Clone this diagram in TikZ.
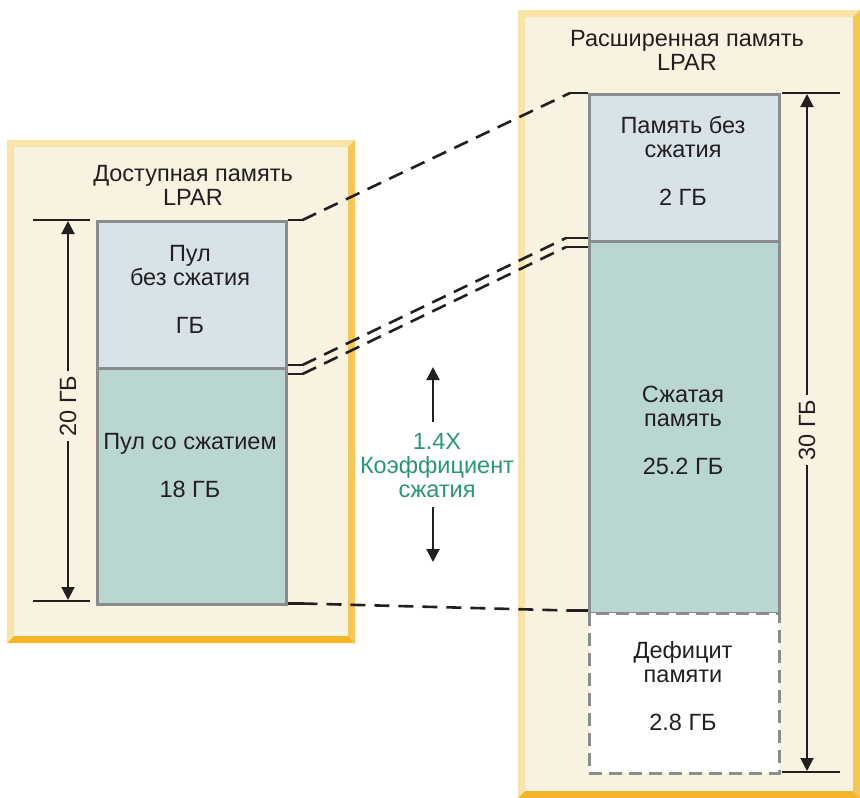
\documentclass[tikz,border=0pt]{standalone}
\usepackage{fontspec}
\setmainfont{Liberation Sans}
\usetikzlibrary{arrows.meta}
\definecolor{panelfill}{HTML}{F8F2E1}
\definecolor{bevlight}{HTML}{F9E3A8}
\definecolor{bevdark}{HTML}{F3C655}
\definecolor{bevbottom}{HTML}{F2B52B}
\definecolor{plainpool}{HTML}{D7E2E9}
\definecolor{zippool}{HTML}{BAD6D1}
\definecolor{edgegray}{HTML}{8A8C8E}
\definecolor{ratio}{HTML}{2A9676}
\definecolor{ink}{HTML}{231F20}

% beveled panel: #1,#2 top-left corner, #3,#4 bottom-right corner
\newcommand\bevelpanel[4]{%
  \fill[panelfill] (#1,#2) rectangle (#3,#4);
  \fill[bevlight] (#1,#2) -- (#3,#2) -- (#3-7,#2+7) -- (#1+7,#2+7) -- cycle;
  \fill[bevlight] (#1,#2) -- (#1+7,#2+7) -- (#1+7,#4-7) -- (#1,#4) -- cycle;
  \fill[bevdark] (#3,#2) -- (#3,#4) -- (#3-7,#4-7) -- (#3-7,#2+7) -- cycle;
  \fill[bevbottom] (#1,#4) -- (#3,#4) -- (#3-7,#4-7) -- (#1+7,#4-7) -- cycle;
}

\tikzset{
  txt/.style={font=\fontsize{23.5}{24}\selectfont, text=ink, align=center, inner sep=0pt},
  % multi-line labels are placed by the baseline of their last line
  lbl/.style={txt, anchor=base},
  pool/.style={draw=edgegray, line width=2.5pt, anchor=north west, inner sep=0pt},
  tick/.style={draw=ink, line width=2pt},
  conn/.style={draw=ink, line width=2.6pt},
  dashconn/.style={conn, dash pattern=on 15pt off 9pt},
  span/.style={draw=ink, line width=2pt, {Triangle[width=13pt,length=13pt]}-{Triangle[width=13pt,length=13pt]}},
  onearrow/.style={draw=ink, line width=2pt, -{Triangle[width=13pt,length=13pt]}},
}

\begin{document}
\begin{tikzpicture}[x=1pt, y=-1pt]
\useasboundingbox (0,0) rectangle (860,798);

% panels
\bevelpanel{7}{140}{355}{643}
\bevelpanel{518}{10}{860}{798}

% titles
\node[lbl] (ltitle) at (193,205) {Доступная память\\LPAR};
\node[lbl] (rtitle) at (687,70) {Расширенная память\\LPAR};

% left memory column
\node[pool, fill=plainpool, minimum width=189pt, minimum height=147pt] (lt) at (96,220) {};
\node[pool, fill=zippool, minimum width=189pt, minimum height=236pt] (lb) at (96,367) {};

% right memory column
\node[pool, fill=plainpool, minimum width=190pt, minimum height=147pt] (rt) at (588,93) {};
\node[pool, fill=zippool, minimum width=190pt, minimum height=372pt] (rb) at (588,240) {};
\node[pool, fill=white, dash pattern=on 13pt off 7pt, minimum width=190pt, minimum height=160pt] (rd) at (588,612) {};

% labels inside the columns
\node[lbl] (ltl) at (190,333) {Пул\\без сжатия\\[24pt]ГБ};
\node[lbl] (lbl) at (190,497) {Пул со сжатием\\[24pt]18 ГБ};
\node[lbl] (rtl) at (683,205) {Память без\\сжатия\\[24pt]2 ГБ};
\node[lbl] (rbl) at (683,474) {Сжатая\\память\\[24pt]25.2 ГБ};
\node[lbl] (rdl) at (683,730) {Дефицит\\памяти\\[24pt]2.8 ГБ};

% size ticks and spans
\coordinate (l1) at (33,220);  \coordinate (l2) at (90,220);
\coordinate (l3) at (33,601);  \coordinate (l4) at (90,601);
\draw[tick] (l1) -- (l2);
\draw[tick] (l3) -- (l4);
\coordinate (ls1) at (68,221); \coordinate (ls2) at (68,600);
\draw[span] (ls1) -- (ls2);
\node[txt, fill=panelfill, rotate=90, inner sep=5pt] (lsize) at (68,406) {20 ГБ};

\coordinate (r1) at (782,93);  \coordinate (r2) at (840,93);
\coordinate (r3) at (782,772); \coordinate (r4) at (840,772);
\draw[tick] (r1) -- (r2);
\draw[tick] (r3) -- (r4);
\coordinate (rs1) at (807,94); \coordinate (rs2) at (807,771);
\draw[span] (rs1) -- (rs2);
\node[txt, fill=panelfill, rotate=90, inner sep=5pt] (rsize) at (807,430) {30 ГБ};

% compression ratio
\node[lbl, text=ratio] (ratio) at (437,497) {1.4X\\Коэффициент\\сжатия};
\coordinate (up0) at (433,422); \coordinate (up1) at (433,367);
\coordinate (dn0) at (433,507); \coordinate (dn1) at (433,562);
\draw[onearrow] (up0) -- (up1);
\draw[onearrow] (dn0) -- (dn1);

% mapping of the pools between the columns
\draw[conn] (lt.north east) -- ++(15,0) coordinate (a1);
\draw[conn] (rt.north west) -- ++(-18,0) coordinate (a2);
\draw[dashconn] (a1) -- (a2);

\draw[conn] ([yshift=4.5pt]lt.south east) -- ++(15,0) coordinate (b1);
\draw[conn] ([yshift=4.5pt]rt.south west) -- ++(-22,0) coordinate (b2);
\draw[dashconn] (b1) -- (b2);
\draw[conn] ([yshift=-4.5pt]lt.south east) -- ++(15,0) coordinate (c1);
\draw[conn] ([yshift=-4.5pt]rt.south west) -- ++(-22,0) coordinate (c2);
\draw[dashconn] (c1) -- (c2);

\draw[conn] ([yshift=2pt]lb.south east) -- ++(15,0) coordinate (d1);
\draw[conn] ([yshift=4pt]rb.south west) -- ++(-20,0) coordinate (d2);
\draw[dashconn] (d1) -- (d2);
\end{tikzpicture}
\end{document}
